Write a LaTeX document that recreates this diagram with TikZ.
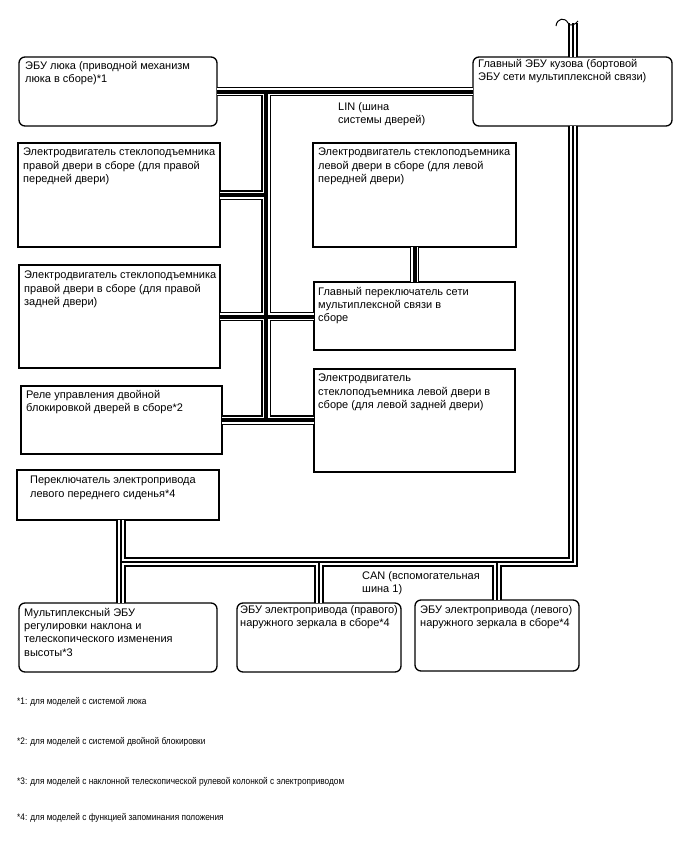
\documentclass[tikz,border=0pt]{standalone}
\usepackage{fontspec}
\setmainfont{Liberation Sans}
\newfontfamily\notefont[FakeStretch=0.87]{Liberation Sans}
\begin{document}
\begin{tikzpicture}[x=1pt,y=-1pt,
  box/.style={draw, line width=1.3pt, fill=white, anchor=north west, inner sep=0, outer sep=0},
  rbox/.style={box, rounded corners=6pt},
  txt/.style={anchor=north west, inner sep=0, align=left, font=\fontsize{11}{13.3}\selectfont},
  note/.style={anchor=west, inner sep=0, font=\notefont\fontsize{9.5}{11}\selectfont},
  squig/.style={line width=1pt}]
\useasboundingbox (0,0) rectangle (688,852);
% boxes
\node[rbox, minimum width=198pt, minimum height=69pt] (b1) at (19,57) {};
\node[rbox, minimum width=199pt, minimum height=69pt] (b2) at (473,57) {};
\node[box, minimum width=202pt, minimum height=104pt] (b3) at (18,143) {};
\node[box, minimum width=203pt, minimum height=104pt] (b4) at (313,143) {};
\node[box, minimum width=201pt, minimum height=103pt] (b5) at (19,265) {};
\node[box, minimum width=201pt, minimum height=68pt] (b6) at (314,282) {};
\node[box, minimum width=201pt, minimum height=68pt] (b7) at (21,386) {};
\node[box, minimum width=201pt, minimum height=103pt] (b8) at (314,369) {};
\node[box, minimum width=202pt, minimum height=50pt] (b9) at (17,470) {};
\node[rbox, minimum width=198pt, minimum height=69pt] (b10) at (19,603) {};
\node[rbox, minimum width=164pt, minimum height=69pt] (b11) at (237,603) {};
\node[rbox, minimum width=164pt, minimum height=71pt] (b12) at (415,600) {};
% texts
\node[txt] (t1) at (25,61) {ЭБУ люка (приводной механизм\\люка в сборе)*1};
\node[txt] (t2) at (478,59) {Главный ЭБУ кузова (бортовой\\ЭБУ сети мультиплексной связи)};
\node[txt] (t3) at (23,148) {Электродвигатель стеклоподъемника\\правой двери в сборе (для правой\\передней двери)};
\node[txt] (t4) at (318,148) {Электродвигатель стеклоподъемника\\левой двери в сборе (для левой\\передней двери)};
\node[txt] (t5) at (24,271) {Электродвигатель стеклоподъемника\\правой двери в сборе (для правой\\задней двери)};
\node[txt] (t6) at (318,287) {Главный переключатель сети\\мультиплексной связи в\\сборе};
\node[txt] (t7) at (26,390) {Реле управления двойной\\блокировкой дверей в сборе*2};
\node[txt] (t8) at (318,374) {Электродвигатель\\стеклоподъемника левой двери в\\сборе (для левой задней двери)};
\node[txt] (t9) at (30,476) {Переключатель электропривода\\левого переднего сиденья*4};
\node[txt] (t10) at (24,608) {Мультиплексный ЭБУ\\регулировки наклона и\\телескопического изменения\\высоты*3};
\node[txt] (t11) at (240,605) {ЭБУ электропривода (правого)\\наружного зеркала в сборе*4};
\node[txt] (t12) at (420,605) {ЭБУ электропривода (левого)\\наружного зеркала в сборе*4};
\node[txt] (lin) at (338,102) {LIN (шина\\системы дверей)};
\node[txt] (can) at (362,571) {CAN (вспомогательная\\шина 1)};
% bus coordinates
\coordinate (lt) at (266,91.5);
\coordinate (ct) at (572.5,23);
\coordinate (cc) at (572.5,562);
\coordinate (cl) at (121,562);
% LIN bus
\foreach \lw/\col in {9.5/black,7/white,4/black} {
  \draw[line width=\lw pt, \col] (b1.east) -- (b2.west);
  \draw[line width=\lw pt, \col] (lt) -- (lt |- b7.east);
  \draw[line width=\lw pt, \col] (b3.east) -- (b3.east -| lt);
  \draw[line width=\lw pt, \col] (b5.east) -- (b6.west |- b5.east);
  \draw[line width=\lw pt, \col] (b7.east) -- (b8.west |- b7.east);
  \draw[line width=\lw pt, \col] (b4.south) -- (b6.north);
}
% CAN bus
\foreach \lw/\col in {10/black,6/white,2/black} {
  \draw[line width=\lw pt, \col] (b2.north |- ct) -- (b2.north);
  \draw[line width=\lw pt, \col, line join=miter] (b2.south -| cc) -- (cc) -- (cl);
  \draw[line width=\lw pt, \col] (b9.south -| cl) -- (b10.north -| cl);
  \draw[line width=\lw pt, \col] (b11.north) -- (b11.north |- cc);
  \draw[line width=\lw pt, \col] (b12.north) -- (b12.north |- cc);
}
\draw[squig] (556,26) .. controls (557,18) and (565,17) .. (568,23) .. controls (570,27) and (575,25) .. (578,21);
% notes
\node[note] (n1) at (17,702) {*1: для моделей с системой люка};
\node[note] (n2) at (17,742) {*2: для моделей с системой двойной блокировки};
\node[note] (n3) at (17,782) {*3: для моделей с наклонной телескопической рулевой колонкой с электроприводом};
\node[note] (n4) at (17,818) {*4: для моделей с функцией запоминания положения};
\end{tikzpicture}
\end{document}
